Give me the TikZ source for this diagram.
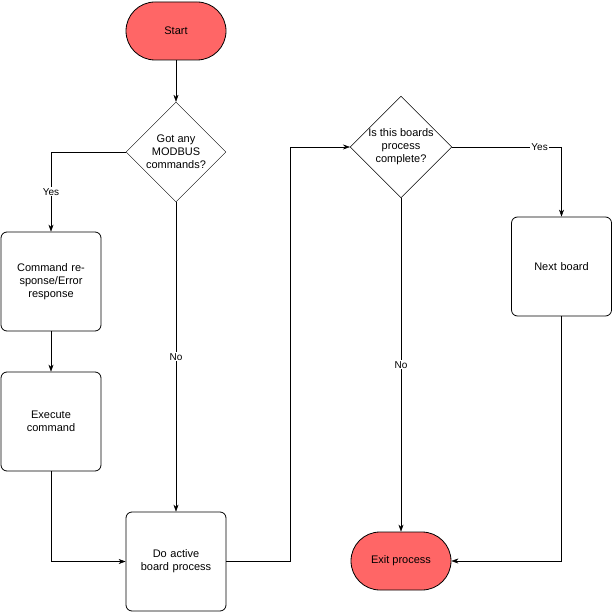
\documentclass[tikz,border=0pt]{standalone}
\usepackage{fontspec}
\setmainfont{Liberation Sans}
\usetikzlibrary{shapes.geometric,arrows.meta}
\definecolor{term}{HTML}{FF6666}
\begin{document}
\begin{tikzpicture}[x=1pt,y=-1pt,
  every node/.style={font=\fontsize{11}{13}\selectfont},
  box/.style={draw,thick,rounded corners=6pt,minimum width=100pt,minimum height=99pt,align=center,text width=90pt},
  term/.style={draw,thick,fill=term,rounded corners=29pt,minimum width=100pt,minimum height=58pt},
  dia/.style={draw,diamond,aspect=1,minimum width=100pt,minimum height=100pt,inner sep=0pt,align=center},
  lab/.style={fill=white,font=\fontsize{10}{12}\selectfont,inner sep=1pt},
  arr/.style={-{Stealth[length=7pt,width=5pt]}}]
\useasboundingbox (0,0) rectangle (612,612);
\node[term] (start) at (176,31) {Start};
\node[dia] (d1) at (176,152) {Got any\\MODBUS\\commands?};
\node[box] (b1) at (51,281.5) {Command response/Error response};
\node[box] (b2) at (51,421.5) {Execute command};
\node[box] (b3) at (176,561.5) {Do active board process};
\node[dia] (d2) at (401,147) {Is this boards\\process\\complete?};
\node[box] (nb) at (561.5,266.5) {Next board};
\node[term] (exit) at (401,561) {Exit process};
\draw[arr] (start) -- (d1);
\draw[arr] (d1.west) -| node[lab,pos=0.75] {Yes} (b1.north);
\draw[arr] (d1.south) -- node[lab,pos=0.5] {No} (b3.north);
\draw[arr] (b1) -- (b2);
\draw[arr] (b2.south) |- (b3.west);
\coordinate (m) at (290,147);
\draw[arr] (b3.east) -| (m) -- (d2.west);
\draw[arr] (d2.east) -| node[lab,pos=0.4] {Yes} (nb.north);
\draw[arr] (d2.south) -- node[lab,pos=0.5] {No} (exit.north);
\draw[arr] (nb.south) |- (exit.east);
\end{tikzpicture}
\end{document}
